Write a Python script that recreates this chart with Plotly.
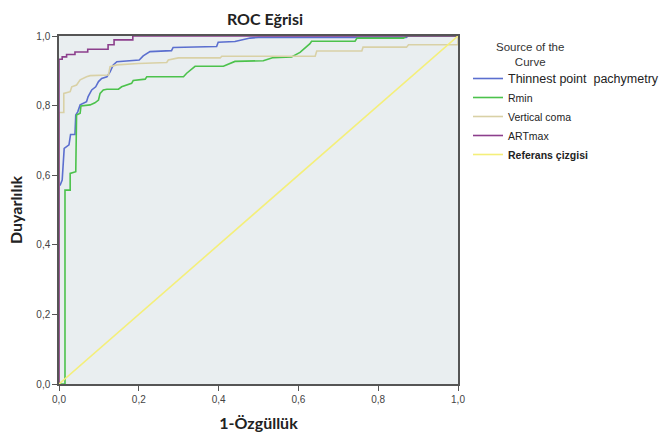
import plotly.graph_objects as go

# ---- data ----
names = ["Thinnest point  pachymetry", "Rmin", "Vertical coma", "ARTmax", "Referans çizgisi"]

thin_x = [0, 0, 0.003, 0.008, 0.013, 0.025, 0.029, 0.04, 0.042, 0.047, 0.053, 0.069, 0.073, 0.082,
          0.092, 0.099, 0.107, 0.12, 0.128, 0.136, 0.145, 0.19, 0.201, 0.211, 0.218, 0.228, 0.282,
          0.286, 0.395, 0.399, 0.441, 0.458, 0.479, 0.5, 0.87, 0.875, 1]
thin_y = [0, 0.572, 0.572, 0.586, 0.677, 0.687, 0.717, 0.717, 0.773, 0.782, 0.802, 0.811, 0.826, 0.845,
          0.854, 0.869, 0.878, 0.883, 0.897, 0.917, 0.926, 0.929, 0.931, 0.943, 0.948, 0.955, 0.958,
          0.967, 0.97, 0.982, 0.984, 0.988, 0.994, 0.996, 0.996, 1, 1]

rmin_x = [0, 0.015, 0.015, 0.028, 0.028, 0.042, 0.044, 0.053, 0.055, 0.078, 0.09, 0.099, 0.103, 0.111,
          0.12, 0.149, 0.157, 0.182, 0.186, 0.216, 0.22, 0.312, 0.32, 0.341, 0.412, 0.441, 0.512, 0.537,
          0.583, 0.604, 0.629, 0.633, 0.742, 0.747, 0.863, 0.871, 1]
rmin_y = [0, 0, 0.557, 0.557, 0.605, 0.61, 0.773, 0.778, 0.799, 0.802, 0.808, 0.816, 0.835, 0.845,
          0.847, 0.847, 0.854, 0.864, 0.872, 0.876, 0.883, 0.883, 0.893, 0.913, 0.913, 0.927, 0.929, 0.938,
          0.94, 0.953, 0.978, 0.985, 0.985, 0.994, 0.994, 1, 1]

coma_x = [0, 0, 0.012, 0.012, 0.028, 0.032, 0.044, 0.053, 0.069, 0.078, 0.124, 0.128, 0.145, 0.199,
          0.27, 0.274, 0.299, 0.404, 0.408, 0.642, 0.646, 0.759, 0.762, 0.871, 0.876, 1, 1]
coma_y = [0, 0.78, 0.78, 0.835, 0.84, 0.854, 0.859, 0.874, 0.883, 0.886, 0.888, 0.912, 0.917, 0.921,
          0.924, 0.931, 0.937, 0.937, 0.942, 0.942, 0.957, 0.957, 0.968, 0.968, 0.975, 0.975, 1]

art_x = [0, 0, 0.008, 0.008, 0.019, 0.019, 0.04, 0.04, 0.072, 0.072, 0.123, 0.123, 0.138, 0.138,
         0.185, 0.185, 1]
art_y = [0, 0.933, 0.933, 0.94, 0.94, 0.947, 0.947, 0.954, 0.954, 0.962, 0.962, 0.975, 0.975, 0.989,
         0.989, 1, 1]

ref_x = [0, 1]
ref_y = [0, 1]

tick_vals = [0, 0.2, 0.4, 0.6, 0.8, 1.0]

colors = ["#5b6fcf", "#4cc24c", "#d9d1a6", "#8c3f8c", "#f4ef7a"]

series = [(thin_x, thin_y), (rmin_x, rmin_y), (coma_x, coma_y), (art_x, art_y), (ref_x, ref_y)]
legend_names = [
    '<span style="font-size:12.5px">' + names[0] + '</span>',
    names[1], names[2], names[3],
    '<b>' + names[4] + '</b>',
]

fig = go.Figure()
for (xs, ys), nm, c in zip(series, legend_names, colors):
    fig.add_trace(go.Scatter(x=xs, y=ys, mode="lines", name=nm,
                             line=dict(color=c, width=1.6)))

axis_common = dict(
    range=[0, 1], tickvals=tick_vals, tickformat=".1f",
    showgrid=False, zeroline=False, automargin=False,
    showline=True, linecolor="#555555", linewidth=1.5, mirror=True,
    ticks="outside", ticklen=5, tickcolor="#555555", tickwidth=1.2,
    tickfont=dict(family="Liberation Sans, Arial", size=10, color="#444444"),
    layer="below traces",
)

title_font = dict(family="Lato, Open Sans", size=16, color="#222222")

fig.update_layout(
    width=661, height=437,
    margin=dict(l=59, r=203, t=36, b=53, autoexpand=False),
    paper_bgcolor="white", plot_bgcolor="#e9eef0",
    separators=", ",
    title=dict(text="<b>ROC Eğrisi</b>", x=265 / 661, xanchor="center",
               y=1 - 19 / 437, yanchor="middle", font=title_font),
    xaxis=dict(**axis_common,
               title=dict(text="<b>1-Özgüllük</b>", standoff=14, font=title_font)),
    yaxis=dict(**axis_common,
               title=dict(text="<b>Duyarlılık</b>", standoff=10, font=title_font)),
    legend=dict(
        x=(468 - 59) / 399, y=(384 - 64) / 348, xanchor="left", yanchor="top",
        bgcolor="rgba(0,0,0,0)",
        font=dict(family="Liberation Sans, Arial", size=10.5, color="#222222"),
        itemwidth=30, tracegroupgap=0,
    ),
    annotations=[dict(
        text="Source of the<br>Curve", xref="paper", yref="paper",
        x=(530 - 59) / 399, y=(384 - 54) / 348, xanchor="center", yanchor="middle",
        align="center", showarrow=False,
        font=dict(family="Liberation Sans, Arial", size=11.5, color="#333333"),
    )],
    showlegend=True,
)

fig.write_html("out.html", config={"displayModeBar": False},
               post_script="document.body.style.margin='0';")
